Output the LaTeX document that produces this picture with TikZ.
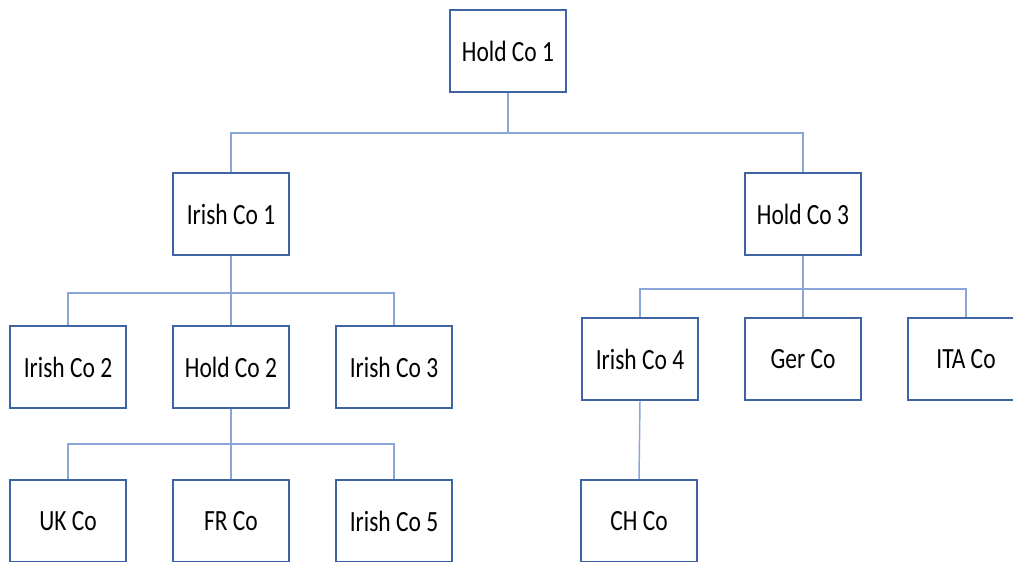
\documentclass[tikz,border=0pt]{standalone}
\usepackage{fontspec}
\setmainfont[FakeStretch=0.8]{Carlito}
\usetikzlibrary{positioning}
\definecolor{boxblue}{HTML}{3E64A6}
\definecolor{lineblue}{HTML}{8AA6D8}
\tikzset{
  company/.style={rectangle, draw=boxblue, line width=1.4pt, fill=white,
    minimum width=87pt, minimum height=61.5pt, inner sep=0pt,
    font=\fontsize{22}{26}\selectfont},
  link/.style={draw=lineblue, line width=1.1pt}
}

\begin{document}
\begin{tikzpicture}[x=0.75pt, y=-0.75pt, node distance=122.25pt]
	\clip (0,0) rectangle (1013,561);
	\useasboundingbox (0,0) rectangle (1013,561);
	% top level
	\node [company] (hc1) at (508,51) {Hold Co 1};
	\node [company] (ic1) at (231,214) {Irish Co 1};
	\node [company] (hc3) at (803,214) {Hold Co 3};
	% left branch
	\node [company] (hc2) at (231,367) {Hold Co 2};
	\node [company] (ic2) [left of=hc2] {Irish Co 2};
	\node [company] (ic3) [right of=hc2] {Irish Co 3};
	\node [company] (fr) at (231,521) {FR Co};
	\node [company] (uk) [left of=fr] {UK Co};
	\node [company] (ic5) [right of=fr] {Irish Co 5};
	% right branch
	\node [company] (ger) at (803,359) {Ger Co};
	\node [company] (ic4) [left of=ger] {Irish Co 4};
	\node [company] (ita) [right of=ger] {ITA Co};
	\node [company] (ch) at (639,521) {CH Co};
	% connectors
	\draw [link] (hc1.south) -- ++(0,40) coordinate (j1);
	\draw [link] (ic1.north) |- (j1) -| (hc3.north);
	\draw [link] (ic1.south) -- ++(0,37) coordinate (j2);
	\draw [link] (ic2.north) |- (j2) -| (ic3.north);
	\draw [link] (j2) -- (hc2.north);
	\draw [link] (hc2.south) -- ++(0,35) coordinate (j3);
	\draw [link] (uk.north) |- (j3) -| (ic5.north);
	\draw [link] (j3) -- (fr.north);
	\draw [link] (hc3.south) -- ++(0,33) coordinate (j4);
	\draw [link] (ic4.north) |- (j4) -| (ita.north);
	\draw [link] (j4) -- (ger.north);
	\draw [link] (ic4.south) -- (ch.north);
\end{tikzpicture}
\end{document}
